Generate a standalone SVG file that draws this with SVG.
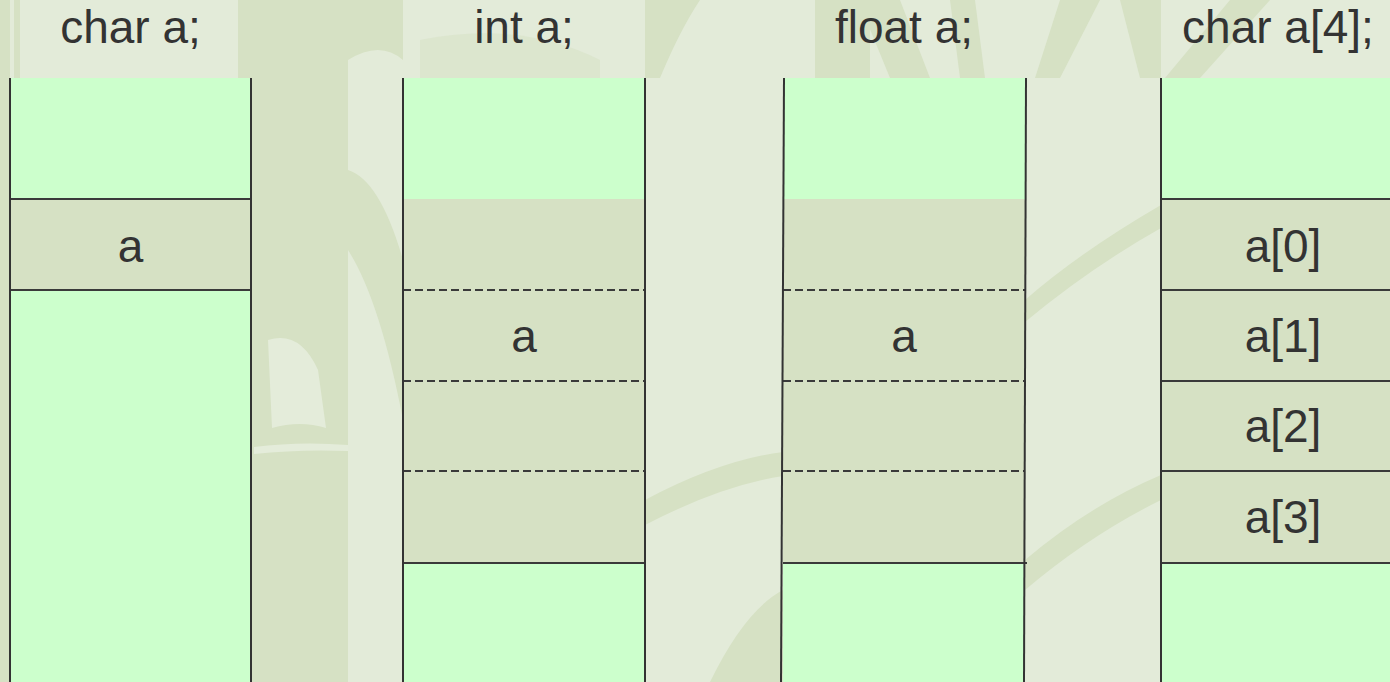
<svg xmlns="http://www.w3.org/2000/svg" width="1390" height="682" viewBox="0 0 1390 682">
<style>
.t{font-family:"Liberation Sans",Arial,sans-serif;font-size:46px;fill:#333333;text-anchor:middle}
.g{fill:#ccffcc}
.b{fill:#d6e1c4}
.v{stroke:#333333;stroke-width:2;fill:none}
.h{stroke:#3a3a3a;stroke-width:2;fill:none}
.d{stroke:#3a3a3a;stroke-width:2;stroke-dasharray:8 4;fill:none}
.bgd{fill:#d6e1c4}
.bgl{fill:#e4ecda}
</style>
<g id="background">
<rect x="0" y="0" width="1390" height="682" fill="#e3ebd9"/>
<rect class="bgd" x="0" y="0" width="10" height="682"/>
<rect class="bgd" x="14" y="0" width="6" height="80"/>
<rect class="bgd" x="238" y="0" width="110" height="682"/>
<path class="bgd" d="M348 170 Q380 180 403 260 L403 420 Q380 300 348 250 Z"/>
<path class="bgl" d="M268 340 Q300 330 318 370 L326 428 Q300 420 272 428 Z"/>
<path class="bgl" d="M254 447 Q300 441 348 445 L348 451 Q300 449 254 454 Z"/>
<path class="bgd" d="M348 0 L403 0 L403 60 Q380 40 348 60 Z"/>
<path class="bgd" d="M645 500 Q720 460 783 452 L783 476 Q720 486 645 525 Z"/>
<path class="bgd" d="M710 682 Q745 610 783 590 L783 682 Z"/>
<path class="bgd" d="M645 0 L700 0 Q680 30 660 78 L645 78 Z"/>
<path class="bgd" d="M815 0 L870 0 L870 78 L815 78 Z"/>
<path class="bgd" d="M858 0 L900 0 L930 78 L890 78 Z"/>
<path class="bgd" d="M950 0 L975 0 L985 78 L960 78 Z"/>
<path class="bgd" d="M1060 0 L1100 0 L1060 78 L1035 78 Z"/>
<path class="bgd" d="M1025 560 Q1090 505 1161 475 L1161 500 Q1090 535 1025 590 Z"/>
<path class="bgd" d="M1025 300 Q1080 252 1161 205 L1161 228 Q1090 268 1025 322 Z"/>
<path class="bgd" d="M1120 0 L1161 0 L1161 78 L1140 78 Z"/>
<path class="bgd" d="M1230 0 L1270 0 L1200 78 L1165 78 Z"/>
<path class="bgd" d="M420 40 Q520 20 600 60 L600 78 L420 78 Z" opacity="0.5"/>
</g>
<g id="col1">
<rect class="g" x="10" y="78" width="241" height="604"/>
<rect class="b" x="10" y="199" width="241" height="91"/>
<line class="h" x1="10" y1="199" x2="251" y2="199"/>
<line class="h" x1="10" y1="290" x2="251" y2="290"/>
<line class="v" x1="10" y1="78" x2="10" y2="682"/>
<line class="v" x1="251" y1="78" x2="251" y2="682"/>
<text class="t" x="130.5" y="43">char a;</text>
<text class="t" x="130.5" y="262">a</text>
</g>
<g id="col2">
<rect class="g" x="403" y="78" width="242" height="604"/>
<rect class="b" x="403" y="199" width="242" height="364"/>
<line class="d" x1="403" y1="290" x2="645" y2="290"/>
<line class="d" x1="403" y1="381" x2="645" y2="381"/>
<line class="d" x1="403" y1="471" x2="645" y2="471"/>
<line class="h" x1="403" y1="563" x2="646" y2="563"/>
<line class="v" x1="403" y1="78" x2="403" y2="682"/>
<line class="v" x1="645" y1="78" x2="645" y2="682"/>
<text class="t" x="524" y="43">int a;</text>
<text class="t" x="524" y="352">a</text>
</g>
<g id="col3">
<rect class="g" x="783" y="78" width="242" height="604"/>
<rect class="b" x="783" y="199" width="242" height="364"/>
<line class="d" x1="783" y1="290" x2="1025" y2="290"/>
<line class="d" x1="783" y1="381" x2="1025" y2="381"/>
<line class="d" x1="783" y1="471" x2="1025" y2="471"/>
<line class="h" x1="783" y1="563" x2="1027" y2="563"/>
<line class="v" x1="784" y1="78" x2="781" y2="682"/>
<line class="v" x1="1026" y1="78" x2="1024" y2="682"/>
<text class="t" x="904" y="43">float a;</text>
<text class="t" x="904" y="352">a</text>
</g>
<g id="col4">
<rect class="g" x="1161" y="78" width="229" height="604"/>
<rect class="b" x="1161" y="199" width="229" height="364"/>
<line class="h" x1="1161" y1="199" x2="1390" y2="199"/>
<line class="h" x1="1161" y1="290" x2="1390" y2="290"/>
<line class="h" x1="1161" y1="381" x2="1390" y2="381"/>
<line class="h" x1="1161" y1="471" x2="1390" y2="471"/>
<line class="h" x1="1161" y1="563" x2="1390" y2="563"/>
<line class="v" x1="1161" y1="78" x2="1161" y2="682"/>
<text class="t" x="1278" y="43">char a[4];</text>
<text class="t" x="1283" y="262">a[0]</text>
<text class="t" x="1283" y="352">a[1]</text>
<text class="t" x="1283" y="442">a[2]</text>
<text class="t" x="1283" y="533">a[3]</text>
</g>
</svg>
